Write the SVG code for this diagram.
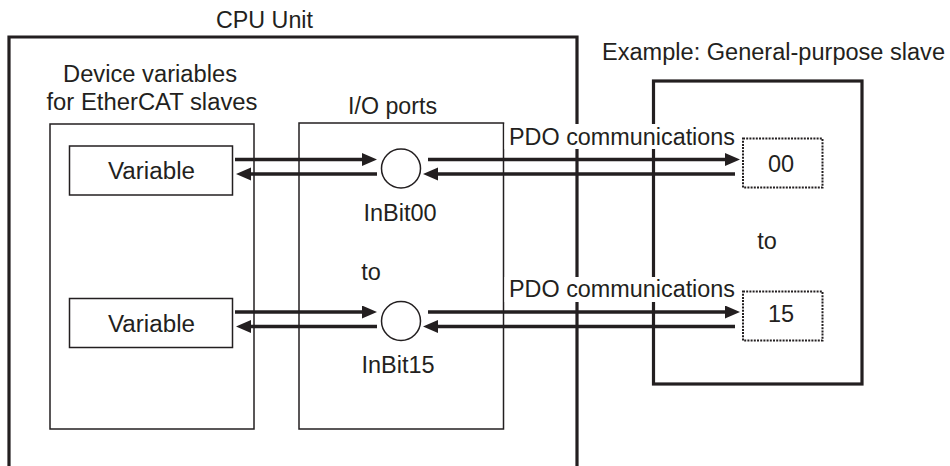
<svg xmlns="http://www.w3.org/2000/svg" width="950" height="466" viewBox="0 0 950 466">
<style>
text{font-family:"Liberation Sans",Arial,Helvetica,sans-serif;font-size:23.5px;fill:#231f20}
.thick{fill:none;stroke:#231f20;stroke-width:3.2}
.thin{fill:none;stroke:#231f20;stroke-width:1.5}
.dot{fill:#fff;stroke:#231f20;stroke-width:2;stroke-dasharray:2 1.2}
.arr{fill:none;stroke:#231f20;stroke-width:3.6;marker-end:url(#ah)}
.bg{fill:#fff;stroke:none}
</style>
<defs>
<marker id="ah" markerUnits="userSpaceOnUse" markerWidth="17" markerHeight="14" refX="3" refY="6.5" orient="auto">
<path d="M0,0 L15,6.5 L0,13 z" fill="#231f20"/>
</marker>
</defs>
<rect width="950" height="466" fill="#fff"/>

<g id="cpu-unit">
<path class="thick" d="M9,466 V37 H577 V466"/>
<text x="264.5" y="27.5" text-anchor="middle" textLength="97" lengthAdjust="spacingAndGlyphs">CPU Unit</text>
</g>

<g id="device-variables">
<rect class="thin" x="50" y="124" width="204" height="305"/>
<text x="150" y="82" text-anchor="middle" textLength="174" lengthAdjust="spacingAndGlyphs">Device variables</text>
<text x="152" y="109.5" text-anchor="middle" textLength="211" lengthAdjust="spacingAndGlyphs">for EtherCAT slaves</text>
</g>

<g id="io-ports">
<rect class="thin" x="299" y="123" width="204.5" height="306"/>
<text x="392.5" y="114" text-anchor="middle" textLength="89" lengthAdjust="spacingAndGlyphs">I/O ports</text>
<text x="371" y="280" text-anchor="middle">to</text>
</g>

<g id="slave">
<rect class="thick" x="653.5" y="81" width="208.5" height="303"/>
<text x="602" y="60" textLength="343" lengthAdjust="spacingAndGlyphs">Example: General-purpose slave</text>
<text x="767" y="249" text-anchor="middle">to</text>
</g>

<g id="variable-00">
<rect class="thin" x="69.5" y="146" width="163" height="49"/>
<text x="151.5" y="179" text-anchor="middle" textLength="87" lengthAdjust="spacingAndGlyphs">Variable</text>
</g>
<g id="variable-15">
<rect class="thin" x="69.5" y="298.5" width="163" height="49"/>
<text x="151.5" y="331.5" text-anchor="middle" textLength="87" lengthAdjust="spacingAndGlyphs">Variable</text>
</g>

<g id="port-inbit00">
<circle class="thin" cx="401" cy="168.5" r="19.5"/>
<text x="400" y="221" text-anchor="middle">InBit00</text>
</g>
<g id="port-inbit15">
<circle class="thin" cx="401" cy="321" r="19.5"/>
<text x="398" y="373" text-anchor="middle">InBit15</text>
</g>

<g id="slave-bit-00">
<rect class="dot" x="743" y="138.5" width="79.5" height="49"/>
<text x="781" y="172" text-anchor="middle">00</text>
</g>
<g id="slave-bit-15">
<rect class="dot" x="743" y="291.5" width="79.5" height="49"/>
<text x="781" y="321.5" text-anchor="middle">15</text>
</g>

<g id="connectors">
<line class="arr" x1="235" y1="159.5" x2="365" y2="159.5"/>
<line class="arr" x1="377" y1="174" x2="248" y2="174"/>
<line class="arr" x1="428" y1="159.5" x2="728" y2="159.5"/>
<line class="arr" x1="735" y1="174" x2="435" y2="174"/>
<line class="arr" x1="235" y1="312" x2="365" y2="312"/>
<line class="arr" x1="377" y1="326.5" x2="248" y2="326.5"/>
<line class="arr" x1="428" y1="312" x2="728" y2="312"/>
<line class="arr" x1="735" y1="326.5" x2="435" y2="326.5"/>
</g>

<g id="pdo-label-00">
<rect class="bg" x="504.5" y="124" width="234" height="25"/>
<text x="509" y="144.5" textLength="226" lengthAdjust="spacingAndGlyphs">PDO communications</text>
</g>
<g id="pdo-label-15">
<rect class="bg" x="504.5" y="277" width="234" height="25"/>
<text x="509" y="297" textLength="226" lengthAdjust="spacingAndGlyphs">PDO communications</text>
</g>
</svg>
